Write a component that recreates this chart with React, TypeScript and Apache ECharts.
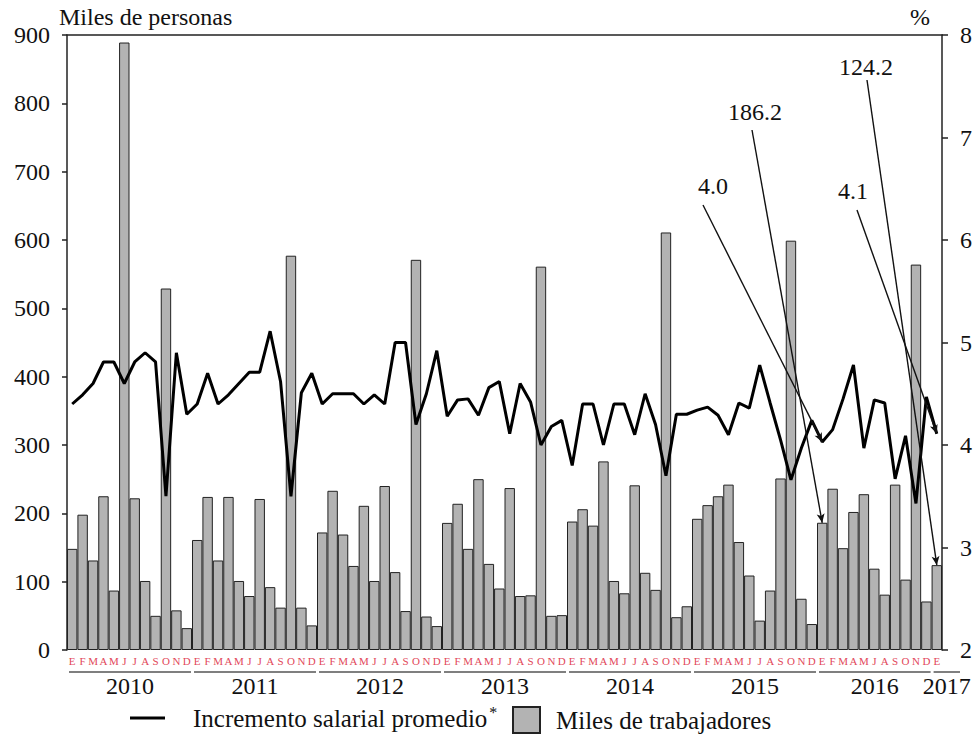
import React, { useEffect, useRef } from 'react';
import * as echarts from 'echarts';

// ---------- data ----------
const monthLabels: string[] = [
  'E', 'F', 'M', 'A', 'M', 'J', 'J', 'A', 'S', 'O', 'N', 'D', // 2010
  'E', 'F', 'M', 'A', 'M', 'J', 'J', 'A', 'S', 'O', 'N', 'D', // 2011
  'E', 'F', 'M', 'A', 'M', 'J', 'J', 'A', 'S', 'O', 'N', 'D', // 2012
  'E', 'F', 'M', 'A', 'M', 'J', 'J', 'A', 'S', 'O', 'N', 'D', // 2013
  'E', 'F', 'M', 'A', 'M', 'J', 'J', 'A', 'S', 'O', 'N', 'D', // 2014
  'E', 'F', 'M', 'A', 'M', 'J', 'J', 'A', 'S', 'O', 'N', 'D', // 2015
  'E', 'F', 'M', 'A', 'M', 'J', 'A', 'S', 'O', 'N', 'D', // 2016
  'E', // 2017
];

const yearLabels: string[] = ['2010', '2011', '2012', '2013', '2014', '2015', '2016', '2017'];
const yearMonthCounts: number[] = [12, 12, 12, 12, 12, 12, 11, 1];

// Miles de trabajadores (left axis)
const workers: number[] = [
  148, 198, 131, 225, 87, 889, 222, 101, 50, 529, 58, 32,
  161, 224, 131, 224, 101, 79, 221, 92, 62, 577, 62, 36,
  172, 233, 169, 123, 211, 101, 240, 114, 57, 571, 49, 35,
  186, 214, 148, 250, 126, 90, 237, 79, 80, 561, 50, 51,
  188, 206, 182, 276, 101, 83, 241, 113, 88, 611, 48, 64,
  192, 212, 225, 242, 158, 109, 43, 87, 251, 599, 75, 38,
  186.2, 236, 149, 202, 228, 119, 81, 242, 103, 564, 71,
  124.2,
];

// Incremento salarial promedio (%) (right axis)
const wageIncrease: number[] = [
  4.40, 4.49, 4.60, 4.81, 4.81, 4.60, 4.81, 4.90, 4.81, 3.50, 4.90, 4.30,
  4.40, 4.70, 4.40, 4.49, 4.60, 4.71, 4.71, 5.11, 4.62, 3.50, 4.51, 4.70,
  4.40, 4.50, 4.50, 4.50, 4.40, 4.49, 4.40, 5.00, 5.00, 4.20, 4.50, 4.92,
  4.28, 4.44, 4.45, 4.29, 4.56, 4.62, 4.11, 4.60, 4.42, 4.00, 4.18, 4.24,
  3.80, 4.40, 4.40, 4.00, 4.40, 4.40, 4.10, 4.50, 4.20, 3.70, 4.30, 4.30,
  4.34, 4.37, 4.29, 4.10, 4.41, 4.36, 4.78, 4.41, 4.05, 3.66, 3.97, 4.24,
  4.03, 4.15, 4.45, 4.78, 3.97, 4.44, 4.41, 3.67, 4.09, 3.43, 4.47,
  4.11,
];

const leftTicks = { min: 0, max: 900, interval: 100 };
const rightTicks = { min: 2, max: 8, interval: 1 };

// annotation callouts: label text and the data point they point at
const wageCallouts = [
  { text: '4.0', index: 72 },
  { text: '4.1', index: 83 },
];
const workerCallouts = [
  { text: '186.2', index: 72 },
  { text: '124.2', index: 83 },
];

// ---------- style ----------
const FONT = '"Liberation Serif", "Times New Roman", serif';
const RED = '#e2485a';

const categories = monthLabels.map((m, i) => i + '|' + m);

// label anchor positions for the callouts (layout only)
const wageCalloutLayout = [
  { tx: 713, ty: 186, sx: 703, sy: 205 },
  { tx: 853, ty: 191, sx: 857, sy: 210 },
];
const workerCalloutLayout = [
  { tx: 755, ty: 112, sx: 752, sy: 130 },
  { tx: 866, ty: 67, sx: 867, sy: 80 },
];

export default function App() {
  const ref = useRef<HTMLDivElement>(null);

  useEffect(() => {
    if (!ref.current) return;
    const chart = echarts.init(ref.current, null, { renderer: 'svg' });

    const markLineBase = {
      silent: true,
      symbol: ['none', 'arrow'],
      symbolSize: [6, 9],
      label: { show: false },
      emphasis: { disabled: true },
      lineStyle: { color: '#111', width: 1.4, type: 'solid' },
    };

    const option: any = {
      animation: false,
      backgroundColor: '#fff',
      grid: { left: 67, right: 35, top: 35, bottom: 84, containLabel: false },
      legend: [
        {
          data: [{ name: 'Incremento salarial promedio', icon: 'rect' }],
          left: 125,
          top: 699,
          padding: 5,
          itemWidth: 35,
          itemHeight: 3,
          selectedMode: false,
          formatter: () => '{t|Incremento salarial promedio}{s|*}',
          textStyle: {
            color: '#111',
            fontFamily: FONT,
            rich: {
              t: { fontSize: 25, fontFamily: FONT, color: '#111', padding: [0, 0, 0, 23] },
              s: { fontSize: 16, fontFamily: FONT, color: '#111', padding: [0, 0, 12, 2] },
            },
          },
        },
        {
          data: [{ name: 'Miles de trabajadores', icon: 'rect' }],
          left: 507,
          top: 701,
          padding: 5,
          itemWidth: 27,
          itemHeight: 26,
          selectedMode: false,
          formatter: (n: string) => '{t|' + n + '}',
          textStyle: {
            color: '#111',
            fontFamily: FONT,
            rich: {
              t: { fontSize: 25, fontFamily: FONT, color: '#111', padding: [0, 0, 0, 11] },
            },
          },
        },
      ],
      xAxis: [
        {
          type: 'category',
          data: categories,
          position: 'bottom',
          boundaryGap: true,
          axisLine: { show: false },
          axisTick: { show: false },
          axisLabel: {
            interval: 0,
            color: RED,
            fontSize: 11,
            fontFamily: FONT,
            margin: 5,
            formatter: (v: string) => v.split('|')[1],
          },
          splitLine: { show: false },
        },
        {
          type: 'category',
          data: categories,
          position: 'top',
          axisLine: { show: true, lineStyle: { color: '#222', width: 1.5 } },
          axisTick: { show: false },
          axisLabel: { show: false },
          splitLine: { show: false },
        },
      ],
      yAxis: [
        {
          type: 'value',
          position: 'left',
          min: leftTicks.min,
          max: leftTicks.max,
          interval: leftTicks.interval,
          name: 'Miles de personas',
          nameLocation: 'end',
          nameGap: 6,
          nameTextStyle: {
            fontFamily: FONT,
            fontSize: 24,
            color: '#111',
            align: 'left',
            padding: [0, 0, 0, -8],
          },
          axisLine: { show: true, lineStyle: { color: '#222', width: 1.5 } },
          axisTick: { show: true, inside: false, length: 5, lineStyle: { color: '#222', width: 1.5 } },
          axisLabel: { fontFamily: FONT, fontSize: 24, color: '#111', margin: 17 },
          splitLine: { show: false },
        },
        {
          type: 'value',
          position: 'right',
          min: rightTicks.min,
          max: rightTicks.max,
          interval: rightTicks.interval,
          name: '%',
          nameLocation: 'end',
          nameGap: 6,
          nameTextStyle: {
            fontFamily: FONT,
            fontSize: 24,
            color: '#111',
            align: 'right',
            padding: [0, 12, 0, 0],
          },
          axisLine: { show: true, lineStyle: { color: '#222', width: 1.5 } },
          axisTick: { show: true, inside: false, length: 6, lineStyle: { color: '#222', width: 1.5 } },
          axisLabel: { fontFamily: FONT, fontSize: 24, color: '#111', margin: 18 },
          splitLine: { show: false },
        },
      ],
      series: [
        {
          name: 'Miles de trabajadores',
          type: 'bar',
          xAxisIndex: 0,
          yAxisIndex: 0,
          data: workers,
          barCategoryGap: '0%',
          itemStyle: { color: '#b3b3b3', borderColor: '#222', borderWidth: 1 },
          emphasis: { disabled: true },
          z: 2,
          markLine: {
            ...markLineBase,
            data: workerCallouts.map((c, k) => [
              { x: workerCalloutLayout[k].sx, y: workerCalloutLayout[k].sy },
              { coord: [c.index, workers[c.index]] },
            ]),
          },
        },
        {
          name: 'Incremento salarial promedio',
          type: 'line',
          xAxisIndex: 0,
          yAxisIndex: 1,
          data: wageIncrease,
          symbol: 'none',
          showSymbol: false,
          lineStyle: { color: '#000', width: 3 },
          itemStyle: { color: '#000' },
          emphasis: { disabled: true },
          z: 3,
          markLine: {
            ...markLineBase,
            data: wageCallouts.map((c, k) => [
              { x: wageCalloutLayout[k].sx, y: wageCalloutLayout[k].sy },
              { coord: [c.index, wageIncrease[c.index]] },
            ]),
          },
        },
      ],
    };

    chart.setOption(option);

    // year labels & underlines, positioned through the category axis
    const toX = (i: number) => chart.convertToPixel({ xAxisIndex: 0 }, i) as number;
    const bw = toX(1) - toX(0);
    const graphics: any[] = [];
    let start = 0;
    yearLabels.forEach((yr, k) => {
      const n = yearMonthCounts[k];
      const x0 = toX(start) - bw / 2;
      const x1 = toX(start + n - 1) + bw / 2;
      const isLast = k === yearLabels.length - 1;
      const lx0 = x0 + 2;
      const lx1 = isLast ? x1 + 18 : x1 - 1;
      graphics.push({
        type: 'line',
        silent: true,
        shape: { x1: lx0, y1: 672, x2: lx1, y2: 672 },
        style: { stroke: '#555', lineWidth: 1.5 },
      });
      graphics.push({
        type: 'text',
        silent: true,
        x: (lx0 + lx1) / 2,
        y: 686,
        style: {
          text: yr,
          font: '24px ' + FONT,
          fill: '#111',
          textAlign: 'center',
          textVerticalAlign: 'middle',
          align: 'center',
          verticalAlign: 'middle',
        },
      });
      start += n;
    });

    const calloutTexts = [
      ...wageCallouts.map((c, k) => ({ text: c.text, x: wageCalloutLayout[k].tx, y: wageCalloutLayout[k].ty })),
      ...workerCallouts.map((c, k) => ({ text: c.text, x: workerCalloutLayout[k].tx, y: workerCalloutLayout[k].ty })),
    ];
    calloutTexts.forEach((t) => {
      graphics.push({
        type: 'text',
        silent: true,
        x: t.x,
        y: t.y,
        z: 10,
        style: {
          text: t.text,
          font: '24px ' + FONT,
          fill: '#111',
          textAlign: 'center',
          textVerticalAlign: 'middle',
          align: 'center',
          verticalAlign: 'middle',
        },
      });
    });

    chart.setOption({ graphic: graphics });

    return () => {
      chart.dispose();
    };
  }, []);

  return (
    <div
      ref={ref}
      style={{ position: 'fixed', left: 0, top: 0, width: 977, height: 734, background: '#fff' }}
    />
  );
}
